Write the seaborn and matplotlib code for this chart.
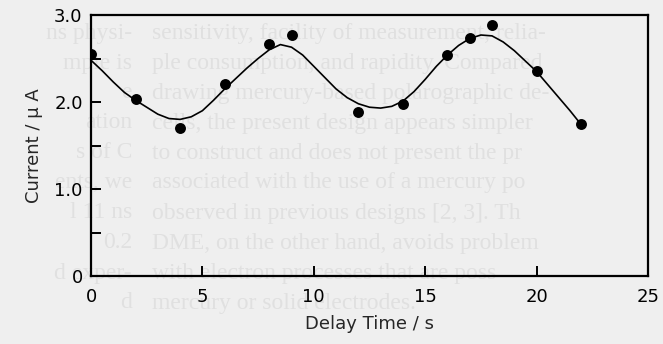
import matplotlib
matplotlib.use("Agg")
import matplotlib.pyplot as plt
import seaborn as sns
import pandas as pd
from matplotlib.ticker import FixedLocator, FixedFormatter

# ---- data ----
delay_s = [0, 2, 4, 6, 8, 9, 12, 14, 16, 17, 18, 20, 22]
current_uA = [2.55, 2.04, 1.70, 2.21, 2.67, 2.77, 1.88, 1.98, 2.54, 2.74, 2.88, 2.36, 1.75]

fit_t = [0, 0.5, 1.0, 1.5, 2.0, 2.5, 3.0, 3.5, 4.0, 4.5, 5.0, 5.5, 6.0, 6.5, 7.0,
         7.5, 8.0, 8.5, 9.0, 9.5, 10.0, 10.5, 11.0, 11.5, 12.0, 12.5, 13.0, 13.5,
         14.0, 14.5, 15.0, 15.5, 16.0, 16.5, 17.0, 17.5, 18.0, 18.5, 19.0, 19.5,
         20.0, 20.5, 21.0, 21.5, 22.0]
fit_current = [2.48, 2.36, 2.23, 2.11, 2.02, 1.94, 1.86, 1.81, 1.80, 1.83, 1.90,
               2.02, 2.15, 2.27, 2.39, 2.50, 2.60, 2.66, 2.63, 2.54, 2.41, 2.28,
               2.15, 2.05, 1.98, 1.94, 1.93, 1.95, 2.01, 2.12, 2.26, 2.41, 2.54,
               2.65, 2.73, 2.77, 2.76, 2.69, 2.59, 2.47, 2.35, 2.20, 2.05, 1.90, 1.74]

x_ticks = [0, 5, 10, 15, 20, 25]
x_tick_labels = ["0", "5", "10", "15", "20", "25"]
y_ticks = [0, 0.5, 1.0, 1.5, 2.0, 2.5, 3.0]
y_tick_labels = ["0", "", "1.0", "", "2.0", "", "3.0"]

x_label = "Delay Time / s"
y_label = "Current / \u03bc A"

# faint show-through text of the scanned page
bleed_right = ["sensitivity, facility of measurement, relia-",
               "ple consumption, and rapidity. Compared",
               "drawing mercury-based polarographic de-",
               "cells, the present design appears simpler",
               "to construct and does not present the pr",
               "associated with the use of a mercury po",
               "observed in previous designs [2, 3]. Th",
               "DME, on the other hand, avoids problem",
               "with electron processes that are poss",
               "mercury or solid electrodes."]
bleed_left = ["ns physi-", "mple is", "e", "ation", "s of C",
              "ents, we", "l 11 ns", "0.2", "d exper-", "d"]

sns.set_theme(style="ticks")
plt.rcParams["font.family"] = ["DejaVu Sans"]

bg = "#efefef"
W, H = 663, 344
fig = plt.figure(figsize=(W / 100, H / 100), dpi=100, facecolor=bg)

# background show-through text
for i, (lt, rt) in enumerate(zip(bleed_left, bleed_right)):
    yy = 1 - (33 + 30 * i) / H
    fig.text(152 / W, yy, rt, family="Liberation Serif", fontsize=17,
             color="#e0e0e0", va="center", ha="left", zorder=-5)
    fig.text(132 / W, yy, lt, family="Liberation Serif", fontsize=17,
             color="#e0e0e0", va="center", ha="right", zorder=-5)

left, right, top, bottom = 91, 648, 15, 276
ax = fig.add_axes([left / W, 1 - bottom / H, (right - left) / W, (bottom - top) / H])
ax.set_facecolor("none")

curve = pd.DataFrame({"t": fit_t, "i": fit_current})
pts = pd.DataFrame({"t": delay_s, "i": current_uA})

sns.lineplot(data=curve, x="t", y="i", ax=ax, color="black", linewidth=1.2,
             zorder=3)
sns.scatterplot(data=pts, x="t", y="i", ax=ax, color="black", s=62,
                edgecolor="black", linewidth=0, zorder=4)

ax.set_xlim(0, 25)
ax.set_ylim(0, 3.0)
ax.xaxis.set_major_locator(FixedLocator(x_ticks))
ax.xaxis.set_major_formatter(FixedFormatter(x_tick_labels))
ax.yaxis.set_major_locator(FixedLocator(y_ticks))
ax.yaxis.set_major_formatter(FixedFormatter(y_tick_labels))

for s in ax.spines.values():
    s.set_linewidth(1.6)
    s.set_color("black")
    s.set_visible(True)

ax.tick_params(axis="both", direction="in", length=7, width=1.4,
               labelsize=13, colors="black", top=False, right=False)
ax.tick_params(axis="x", pad=9)
ax.tick_params(axis="y", pad=6)

ax.set_xlabel(x_label, fontsize=13, labelpad=6)
ax.set_ylabel(y_label, fontsize=13, labelpad=8)

fig.savefig("out.png", dpi=100, facecolor=bg)
